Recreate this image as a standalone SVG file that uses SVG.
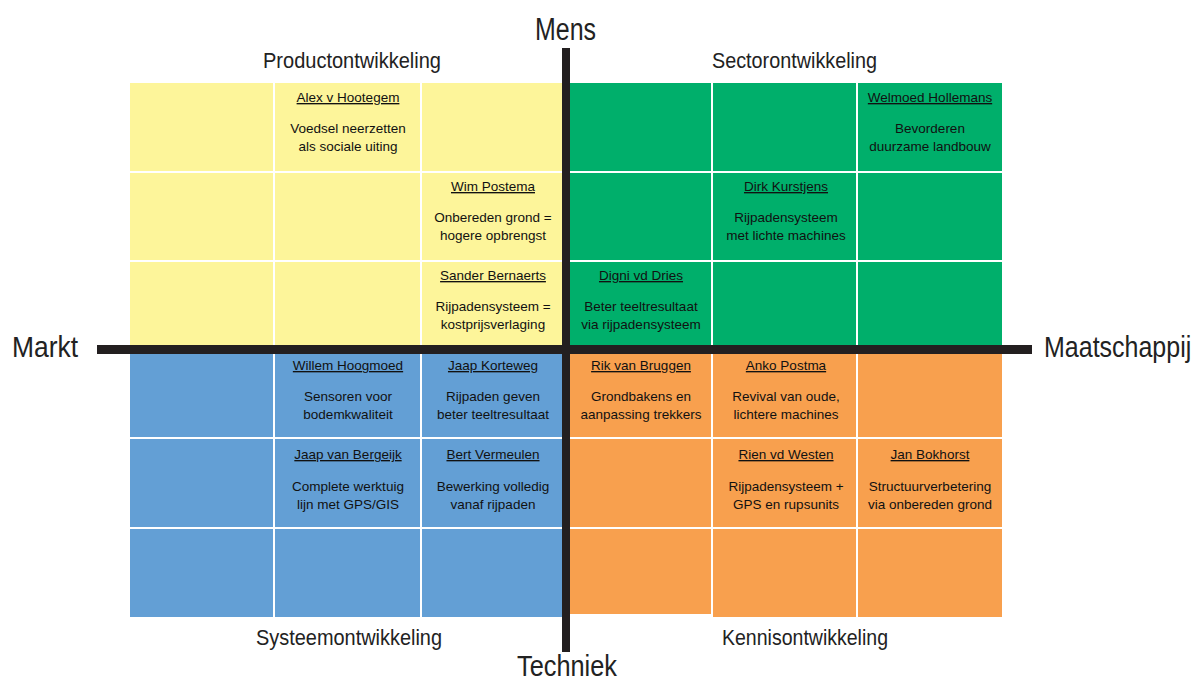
<svg xmlns="http://www.w3.org/2000/svg" width="1199" height="681" viewBox="0 0 1199 681">
  <style>
    .yellow { fill: #fdf59a; }
    .green { fill: #00af6b; }
    .blue { fill: #639fd5; }
    .orange { fill: #f8a04e; }
    .grid { stroke: #ffffff; stroke-width: 2; fill: none; }
    .axis { stroke: #231f20; fill: none; }
    .title { font-family: "Liberation Sans", Arial, sans-serif; fill: #222222; }
    .name { font-family: "Liberation Sans", Arial, sans-serif; font-size: 13.5px; fill: #111111; text-anchor: middle; text-decoration: underline; }
    .desc { font-family: "Liberation Sans", Arial, sans-serif; font-size: 13.5px; fill: #111111; text-anchor: middle; }
  </style>

  <rect width="1199" height="681" fill="#ffffff"/>

  <!-- Quadrant backgrounds -->
  <g id="quadrant-product">
    <rect class="yellow" x="130" y="83" width="435" height="267"/>
    <path class="grid" d="M274,83 V350 M421,83 V350 M130,172 H565 M130,261 H565"/>
  </g>
  <g id="quadrant-sector">
    <rect class="green" x="567" y="83" width="435" height="267"/>
    <path class="grid" d="M712,83 V350 M857,83 V350 M567,172 H1002 M567,261 H1002"/>
  </g>
  <g id="quadrant-systeem">
    <rect class="blue" x="130" y="350" width="435" height="267"/>
    <path class="grid" d="M274,350 V617 M421,350 V617 M130,438 H565 M130,528 H565"/>
  </g>
  <g id="quadrant-kennis">
    <rect class="orange" x="567" y="350" width="145" height="264"/>
    <rect class="orange" x="712" y="350" width="290" height="267"/>
    <path class="grid" d="M712,350 V617 M857,350 V617 M567,438 H1002 M567,528 H1002"/>
  </g>

  <!-- Axes -->
  <g id="axes">
    <line class="axis" x1="566" y1="48" x2="566" y2="652" stroke-width="8"/>
    <line class="axis" x1="97" y1="349.5" x2="1032" y2="349.5" stroke-width="9"/>
  </g>

  <!-- Axis labels -->
  <g id="axis-labels">
    <text class="title" x="535" y="40" font-size="31" textLength="61" lengthAdjust="spacingAndGlyphs">Mens</text>
    <text class="title" x="517" y="676" font-size="30" textLength="100" lengthAdjust="spacingAndGlyphs">Techniek</text>
    <text class="title" x="12" y="357" font-size="30" textLength="66" lengthAdjust="spacingAndGlyphs">Markt</text>
    <!-- narrow face emulated: smaller size stretched vertically -->
    <text class="title" transform="translate(1044,357) scale(1,1.2)" x="0" y="0" font-size="25">Maatschappij</text>
  </g>

  <!-- Quadrant labels -->
  <g id="quadrant-labels">
    <text class="title" x="263" y="68" font-size="22" textLength="178" lengthAdjust="spacingAndGlyphs">Productontwikkeling</text>
    <text class="title" x="712" y="68" font-size="22" textLength="165" lengthAdjust="spacingAndGlyphs">Sectorontwikkeling</text>
    <text class="title" x="256" y="645" font-size="22" textLength="186" lengthAdjust="spacingAndGlyphs">Systeemontwikkeling</text>
    <text class="title" x="722" y="645" font-size="22" textLength="166" lengthAdjust="spacingAndGlyphs">Kennisontwikkeling</text>
  </g>

  <!-- Entries: name + description per cell -->
  <g id="alex-v-hootegem">
    <text class="name" x="348" y="102">Alex v Hootegem</text>
    <text class="desc" x="348" y="133">Voedsel neerzetten</text>
    <text class="desc" x="348" y="151">als sociale uiting</text>
  </g>
  <g id="wim-postema">
    <text class="name" x="493" y="191">Wim Postema</text>
    <text class="desc" x="493" y="222">Onbereden grond =</text>
    <text class="desc" x="493" y="240">hogere opbrengst</text>
  </g>
  <g id="sander-bernaerts">
    <text class="name" x="493" y="280">Sander Bernaerts</text>
    <text class="desc" x="493" y="311">Rijpadensysteem =</text>
    <text class="desc" x="493" y="329">kostprijsverlaging</text>
  </g>
  <g id="welmoed-hollemans">
    <text class="name" x="930" y="102">Welmoed Hollemans</text>
    <text class="desc" x="930" y="133">Bevorderen</text>
    <text class="desc" x="930" y="151">duurzame landbouw</text>
  </g>
  <g id="dirk-kurstjens">
    <text class="name" x="786" y="191">Dirk Kurstjens</text>
    <text class="desc" x="786" y="222">Rijpadensysteem</text>
    <text class="desc" x="786" y="240">met lichte machines</text>
  </g>
  <g id="digni-vd-dries">
    <text class="name" x="641" y="280">Digni vd Dries</text>
    <text class="desc" x="641" y="311">Beter teeltresultaat</text>
    <text class="desc" x="641" y="329">via rijpadensysteem</text>
  </g>
  <g id="willem-hoogmoed">
    <text class="name" x="348" y="370">Willem Hoogmoed</text>
    <text class="desc" x="348" y="401">Sensoren voor</text>
    <text class="desc" x="348" y="419">bodemkwaliteit</text>
  </g>
  <g id="jaap-korteweg">
    <text class="name" x="493" y="370">Jaap Korteweg</text>
    <text class="desc" x="493" y="401">Rijpaden geven</text>
    <text class="desc" x="493" y="419">beter teeltresultaat</text>
  </g>
  <g id="jaap-van-bergeijk">
    <text class="name" x="348" y="459">Jaap van Bergeijk</text>
    <text class="desc" x="348" y="491">Complete werktuig</text>
    <text class="desc" x="348" y="509">lijn met GPS/GIS</text>
  </g>
  <g id="bert-vermeulen">
    <text class="name" x="493" y="459">Bert Vermeulen</text>
    <text class="desc" x="493" y="491">Bewerking volledig</text>
    <text class="desc" x="493" y="509">vanaf rijpaden</text>
  </g>
  <g id="rik-van-bruggen">
    <text class="name" x="641" y="370">Rik van Bruggen</text>
    <text class="desc" x="641" y="401">Grondbakens en</text>
    <text class="desc" x="641" y="419">aanpassing trekkers</text>
  </g>
  <g id="anko-postma">
    <text class="name" x="786" y="370">Anko Postma</text>
    <text class="desc" x="786" y="401">Revival van oude,</text>
    <text class="desc" x="786" y="419">lichtere machines</text>
  </g>
  <g id="rien-vd-westen">
    <text class="name" x="786" y="459">Rien vd Westen</text>
    <text class="desc" x="786" y="491">Rijpadensysteem +</text>
    <text class="desc" x="786" y="509">GPS en rupsunits</text>
  </g>
  <g id="jan-bokhorst">
    <text class="name" x="930" y="459">Jan Bokhorst</text>
    <text class="desc" x="930" y="491">Structuurverbetering</text>
    <text class="desc" x="930" y="509">via onbereden grond</text>
  </g>
</svg>
